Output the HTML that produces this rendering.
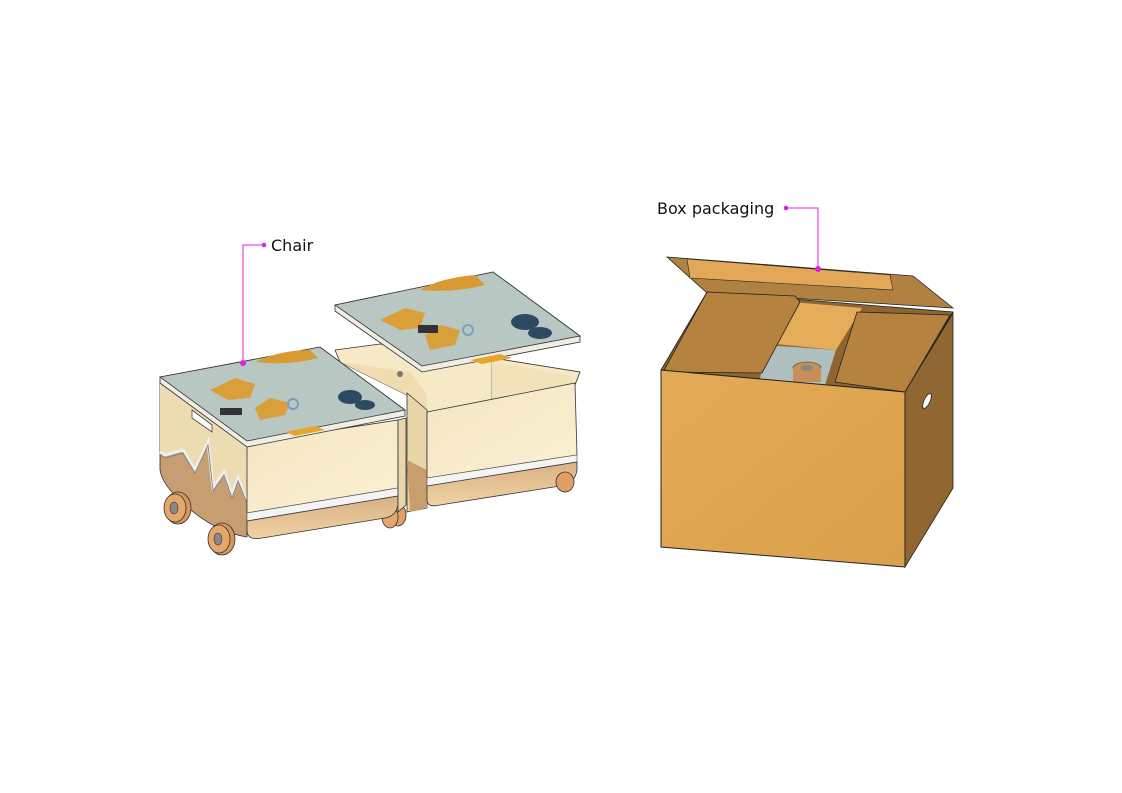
<!DOCTYPE html>
<html><head><meta charset="utf-8"><style>
html,body{margin:0;padding:0;background:#fff;}
svg{display:block;}
text{font-family:"DejaVu Sans","Liberation Sans",sans-serif;font-size:16px;fill:#111;}
</style></head><body>
<svg width="1122" height="793" viewBox="0 0 1122 793" xmlns="http://www.w3.org/2000/svg">
<defs>
<linearGradient id="wood" x1="0" y1="0" x2="1" y2="1"><stop offset="0" stop-color="#f3e6c2"/><stop offset="1" stop-color="#fbf0d3"/></linearGradient>
<linearGradient id="brown" x1="0" y1="0" x2="0" y2="1"><stop offset="0" stop-color="#d9b183"/><stop offset="1" stop-color="#f0d2a4"/></linearGradient>
<linearGradient id="card" x1="0" y1="0" x2="1" y2="1"><stop offset="0" stop-color="#e3aa55"/><stop offset="1" stop-color="#dba04c"/></linearGradient>
</defs>

<polygon points="335,350 380,344 493,358 580,372 575,385 427,413 407,395 340,362" fill="#f6e9c6" stroke="#333" stroke-width="0.8"/>
<polygon points="340,362 407,395 427,413 427,395 410,372" fill="#efdcb0"/>
<line x1="492" y1="362" x2="492" y2="400" stroke="#777" stroke-width="0.8"/>
<polygon points="492,362 570,375 575,383 492,398" fill="#f2e2b9"/>
<polygon points="407,393 427,410 427,508 407,512" fill="#e8d5a8" stroke="#333" stroke-width="0.8"/>
<polygon points="407,460 427,470 427,508 410,512" fill="#c89e6f"/>
<polygon points="427,412 575,383 577,455 427,478" fill="url(#wood)" stroke="#333" stroke-width="0.8"/>
<polygon points="427,478 577,455 577,462 427,486" fill="#f4f4f4" stroke="#555" stroke-width="0.6"/>
<path d="M427,486 L577,462 L577,470 Q575,484 560,486 L440,505 Q427,508 427,500 Z" fill="url(#brown)" stroke="#333" stroke-width="0.8"/>
<ellipse cx="565" cy="482" rx="9" ry="10" fill="#e0a064" stroke="#333" stroke-width="0.8"/>
<ellipse cx="398" cy="515" rx="8" ry="11" fill="#e0a064" stroke="#333" stroke-width="0.8"/>
<ellipse cx="390" cy="517" rx="8" ry="11" fill="#e6a86a" stroke="#333" stroke-width="0.8"/>
<circle cx="400" cy="374" r="3" fill="#777"/>

<polygon points="335,305 493,272 580,336 580,342 422,372 335,311" fill="#f0eee4" stroke="#333" stroke-width="0.8"/>
<polygon points="335,305 493,272 580,336 422,366" fill="#b8c7c2" stroke="#333" stroke-width="0.8"/>
<path d="M420,290 q20,-12 55,-15 l10,10 q-30,8 -65,5z" fill="#d89a32"/>
<path d="M380,320 l25,-12 l20,5 l-5,15 l-20,2z" fill="#d9a03a"/>
<path d="M430,350 l25,-5 l5,-15 l-20,-5 l-15,10z" fill="#d9a03a"/>
<rect x="418" y="325" width="20" height="8" fill="#333"/>
<ellipse cx="525" cy="322" rx="14" ry="8" fill="#2e4a63"/>
<ellipse cx="540" cy="333" rx="12" ry="6" fill="#2e4a63"/>
<circle cx="468" cy="330" r="5" fill="none" stroke="#7a9ec0" stroke-width="2"/>
<path d="M470,360 l30,-6 l12,4 l-30,6z" fill="#e7a52f"/>

<path d="M160,382 L247,445 L247,537 Q215,532 185,505 Q162,485 160,470 Z" fill="#c79e71" stroke="#333" stroke-width="0.8"/>
<path d="M160,382 L247,445 L247,500 L238,478 L232,495 L224,472 L213,488 L208,442 L195,470 L183,450 L165,455 L160,452 Z" fill="#ecdcb2"/>
<polyline points="160,452 165,455 183,450 195,470 208,442 213,488 224,472 232,495 238,478 247,500" fill="none" stroke="#eee" stroke-width="3"/>
<polyline points="160,455 165,458 183,453 195,473 208,445 213,491 224,475 232,498 238,481 247,503" fill="none" stroke="#777" stroke-width="0.8"/>
<polygon points="192,410 212,425 212,432 192,418" fill="#fff" stroke="#444" stroke-width="0.8"/>
<polygon points="247,443 398,420 398,488 247,513" fill="url(#wood)" stroke="#333" stroke-width="0.8"/>
<polygon points="247,513 398,488 398,496 247,521" fill="#f4f4f4" stroke="#555" stroke-width="0.6"/>
<path d="M247,521 L398,496 L398,505 Q396,516 385,518 L262,538 Q247,541 247,530 Z" fill="url(#brown)" stroke="#333" stroke-width="0.8"/>
<polygon points="398,420 406,418 406,505 398,512" fill="#e9d6aa" stroke="#333" stroke-width="0.8"/>
<ellipse cx="178" cy="508" rx="13" ry="16" fill="#d8965a" stroke="#333" stroke-width="0.8"/>
<ellipse cx="175" cy="508" rx="11" ry="14" fill="#e6a86a" stroke="#333" stroke-width="0.8"/>
<ellipse cx="174" cy="508" rx="4" ry="6" fill="#888" stroke="#333" stroke-width="0.6"/>
<ellipse cx="222" cy="539" rx="13" ry="16" fill="#d8965a" stroke="#333" stroke-width="0.8"/>
<ellipse cx="219" cy="539" rx="11" ry="14" fill="#e6a86a" stroke="#333" stroke-width="0.8"/>
<ellipse cx="218" cy="539" rx="4" ry="6" fill="#888" stroke="#333" stroke-width="0.6"/>
<polygon points="160,377 320,347 405,410 405,416 247,447 160,383" fill="#f0eee4" stroke="#333" stroke-width="0.8"/>
<polygon points="160,377 320,347 405,410 247,441" fill="#b8c7c2" stroke="#333" stroke-width="0.8"/>
<path d="M255,362 q25,-12 55,-12 l8,8 q-30,8 -63,4z" fill="#d89a32"/>
<path d="M210,390 l25,-12 l20,6 l-5,14 l-22,2z" fill="#d9a03a"/>
<path d="M260,420 l25,-5 l5,-12 l-20,-5 l-15,10z" fill="#d9a03a"/>
<rect x="220" y="408" width="22" height="7" fill="#333"/>
<ellipse cx="350" cy="397" rx="12" ry="7" fill="#2e4a63"/>
<ellipse cx="365" cy="405" rx="10" ry="5" fill="#2e4a63"/>
<circle cx="293" cy="404" r="5" fill="none" stroke="#7a9ec0" stroke-width="2"/>
<path d="M285,432 l30,-6 l10,4 l-30,6z" fill="#e7a52f"/>

<polygon points="667,257 913,276 953,308 707,293" fill="#b08140" stroke="#222" stroke-width="0.8"/>
<polygon points="687,259 890,275 893,290 690,278" fill="#e2a858" stroke="#222" stroke-width="0.6"/>
<polygon points="661,370 707,292 953,312 905,392" fill="#8e6530" stroke="#222" stroke-width="0.8"/>
<polygon points="766,343 792,302 862,308 836,350" fill="#e5ac5a"/>
<polygon points="765,345 836,350 825,385 760,380" fill="#aebfbd"/>
<ellipse cx="807" cy="368" rx="14" ry="6" fill="#c98f58" stroke="#333" stroke-width="0.6"/>
<rect x="793" y="368" width="28" height="14" fill="#c98f58"/>
<ellipse cx="807" cy="368" rx="6" ry="3" fill="#888"/>
<polygon points="663,372 707,292 795,296 800,302 762,373" fill="#b5833f" stroke="#222" stroke-width="0.8"/>
<polygon points="835,382 857,312 950,315 905,392" fill="#b5833f" stroke="#222" stroke-width="0.8"/>
<polygon points="905,392 953,313 953,488 905,567" fill="#906632" stroke="#222" stroke-width="0.8"/>
<ellipse cx="927" cy="401" rx="3" ry="8" fill="#fff" stroke="#222" stroke-width="0.8" transform="rotate(25 927 401)"/>
<polygon points="661,370 905,392 905,567 661,547" fill="url(#card)" stroke="#222" stroke-width="1"/>

<polyline points="264,245 243,245 243,363" fill="none" stroke="#e020e0" stroke-width="1"/>
<circle cx="264" cy="245" r="2.3" fill="#e020e0"/>
<circle cx="243" cy="363" r="3" fill="#e020e0"/>
<text x="271" y="251">Chair</text>
<polyline points="786,208 818,208 818,269" fill="none" stroke="#e020e0" stroke-width="1"/>
<circle cx="786" cy="208" r="2.3" fill="#e020e0"/>
<circle cx="818" cy="269" r="3" fill="#e020e0"/>
<text x="657" y="214">Box packaging</text>
</svg>
</body></html>
